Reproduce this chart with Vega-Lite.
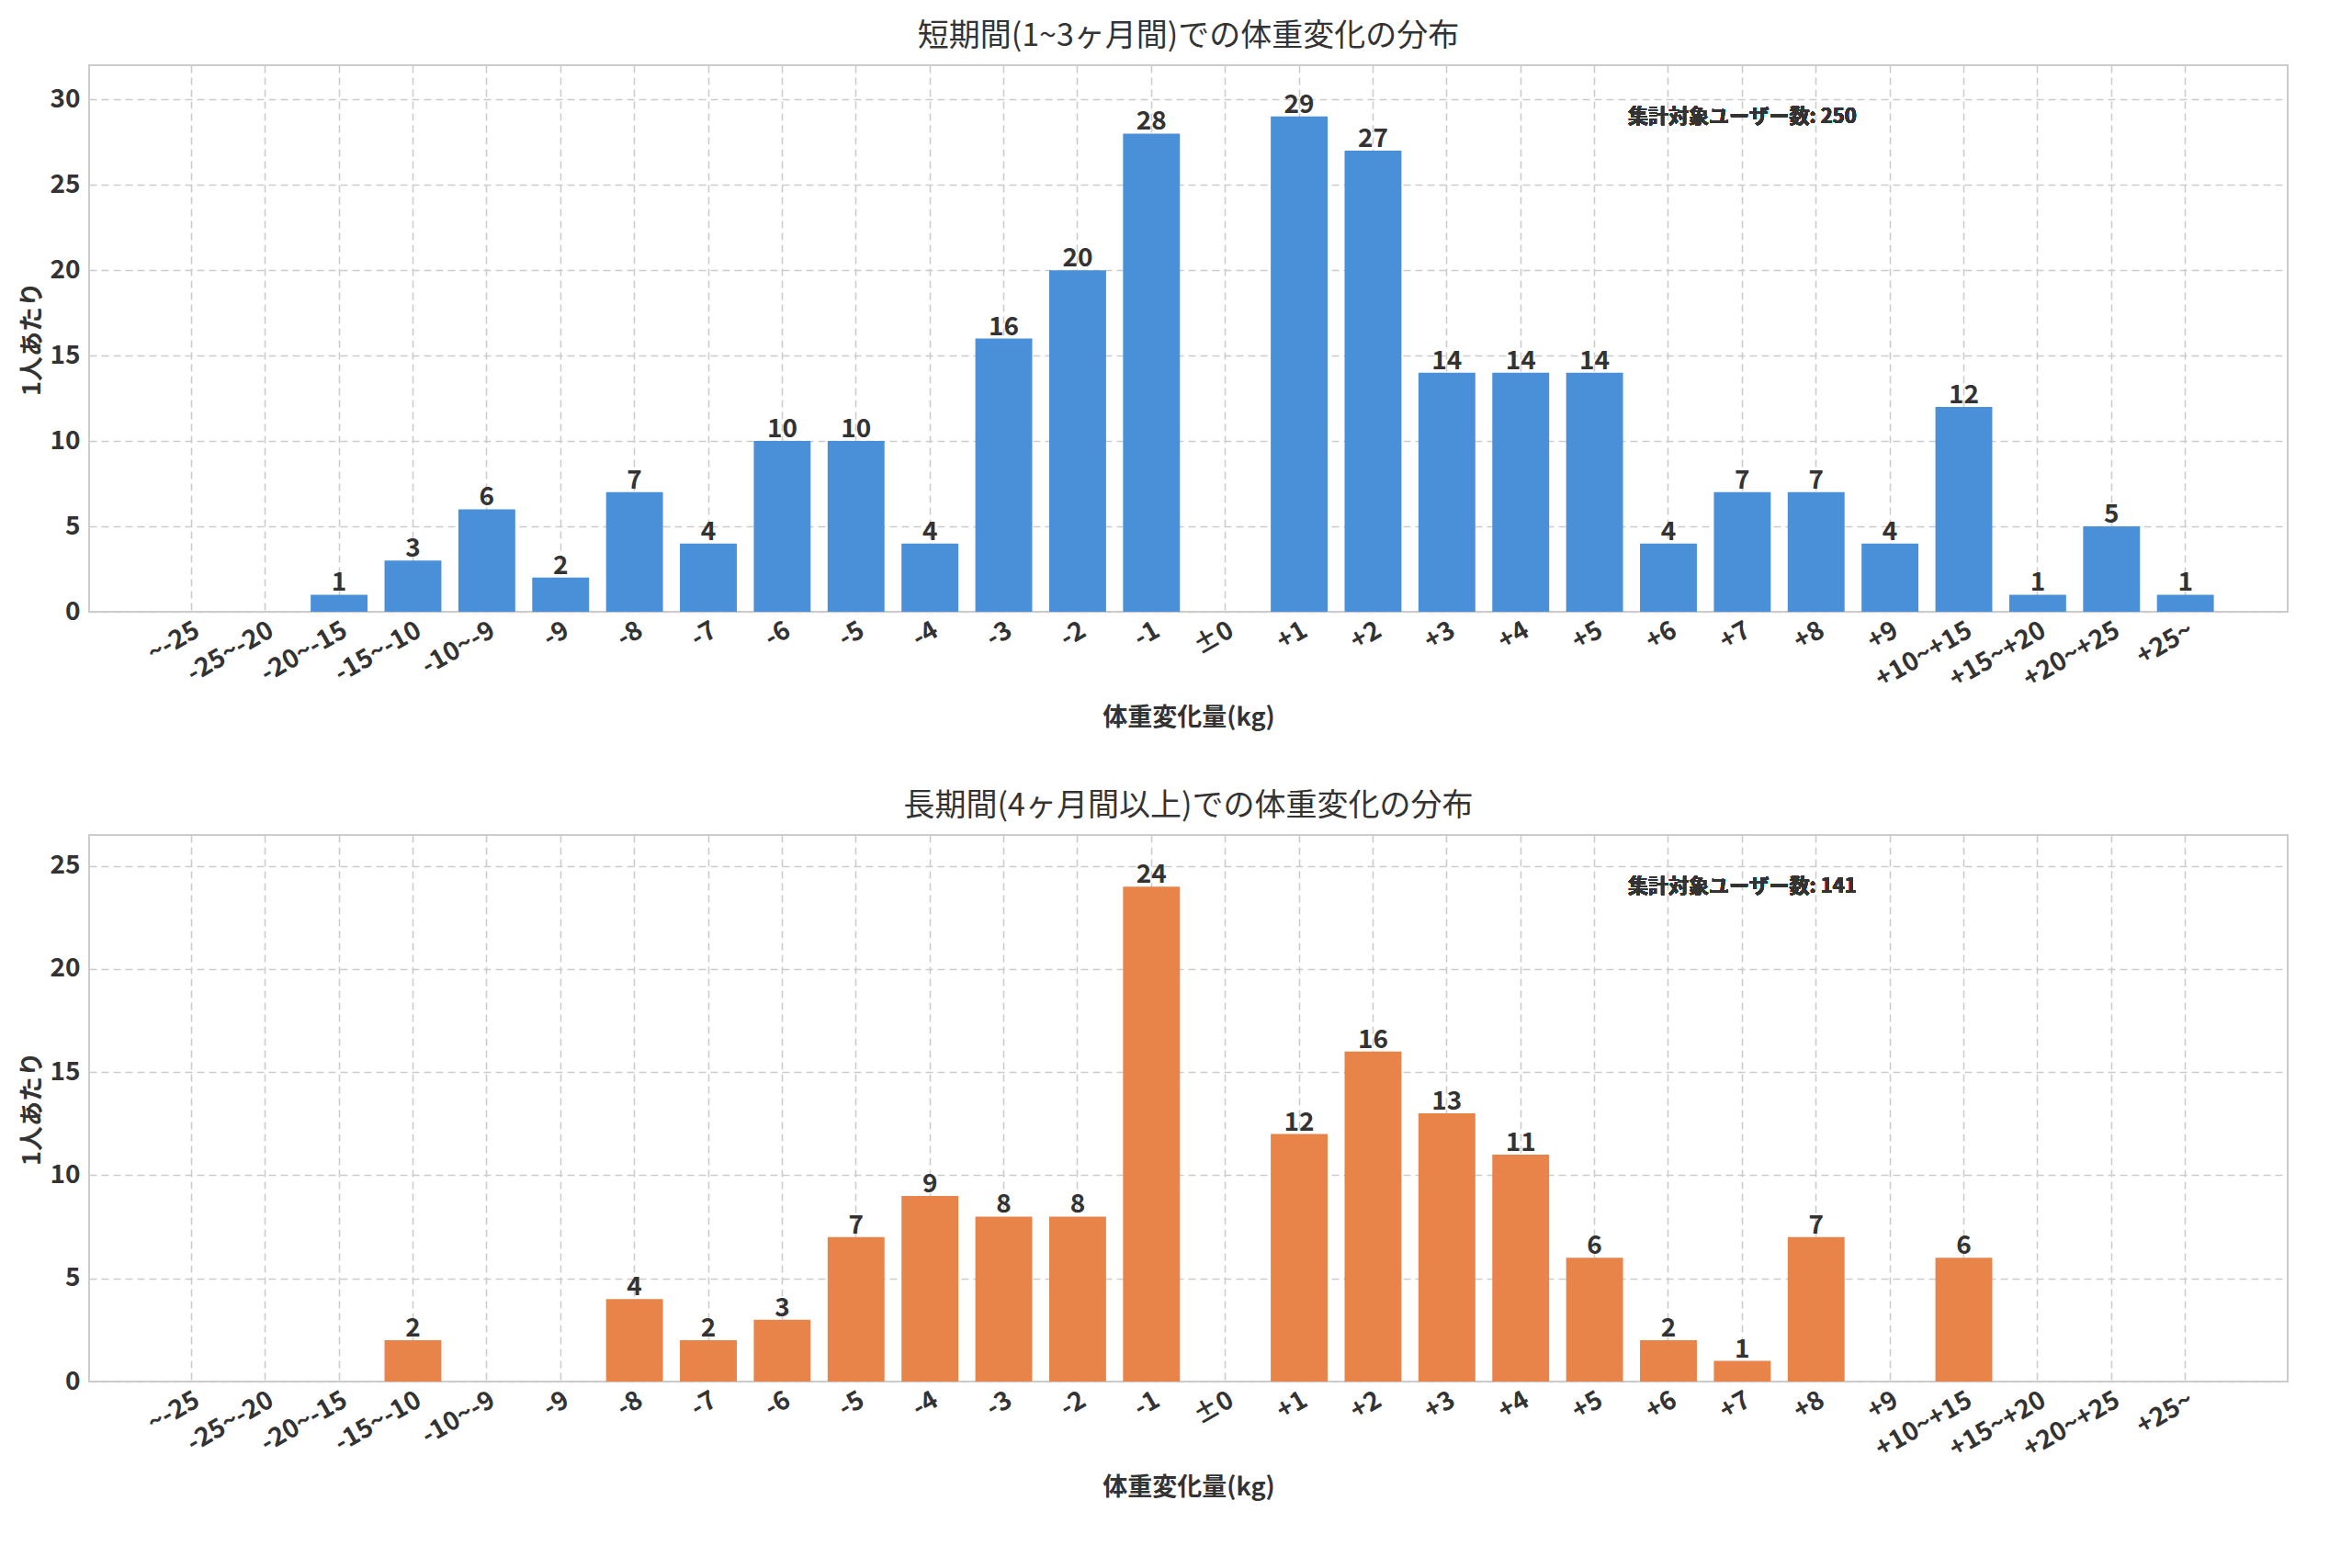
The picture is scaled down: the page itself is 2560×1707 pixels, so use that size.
{
"$schema":"https://vega.github.io/schema/vega-lite/v6.json",
"background":"white",
"padding":{"left":20,"top":22,"right":20,"bottom":10},
"config":{"font":"Noto Sans CJK JP","view":{"stroke":"#cccccc","strokeWidth":2},
"axis":{"labelFont":"Noto Sans CJK JP","titleFont":"Noto Sans CJK JP","labelFontWeight":"bold","titleFontWeight":"bold","labelFontSize":28,"titleFontSize":27,"labelColor":"#333","titleColor":"#333","gridColor":"#cccccc","gridDash":[8,5],"gridWidth":1.6,"domain":false,"ticks":false},
"title":{"font":"Noto Sans CJK JP","fontSize":34,"fontWeight":"normal","color":"#333","offset":14}},
"datasets":{"d":[
{"p":"s","c":"~-25","v":0},{"p":"s","c":"-25~-20","v":0},{"p":"s","c":"-20~-15","v":1},{"p":"s","c":"-15~-10","v":3},{"p":"s","c":"-10~-9","v":6},{"p":"s","c":"-9","v":2},{"p":"s","c":"-8","v":7},{"p":"s","c":"-7","v":4},{"p":"s","c":"-6","v":10},{"p":"s","c":"-5","v":10},{"p":"s","c":"-4","v":4},{"p":"s","c":"-3","v":16},{"p":"s","c":"-2","v":20},{"p":"s","c":"-1","v":28},{"p":"s","c":"±0","v":0},{"p":"s","c":"+1","v":29},{"p":"s","c":"+2","v":27},{"p":"s","c":"+3","v":14},{"p":"s","c":"+4","v":14},{"p":"s","c":"+5","v":14},{"p":"s","c":"+6","v":4},{"p":"s","c":"+7","v":7},{"p":"s","c":"+8","v":7},{"p":"s","c":"+9","v":4},{"p":"s","c":"+10~+15","v":12},{"p":"s","c":"+15~+20","v":1},{"p":"s","c":"+20~+25","v":5},{"p":"s","c":"+25~","v":1},
{"p":"l","c":"~-25","v":0},{"p":"l","c":"-25~-20","v":0},{"p":"l","c":"-20~-15","v":0},{"p":"l","c":"-15~-10","v":2},{"p":"l","c":"-10~-9","v":0},{"p":"l","c":"-9","v":0},{"p":"l","c":"-8","v":4},{"p":"l","c":"-7","v":2},{"p":"l","c":"-6","v":3},{"p":"l","c":"-5","v":7},{"p":"l","c":"-4","v":9},{"p":"l","c":"-3","v":8},{"p":"l","c":"-2","v":8},{"p":"l","c":"-1","v":24},{"p":"l","c":"±0","v":0},{"p":"l","c":"+1","v":12},{"p":"l","c":"+2","v":16},{"p":"l","c":"+3","v":13},{"p":"l","c":"+4","v":11},{"p":"l","c":"+5","v":6},{"p":"l","c":"+6","v":2},{"p":"l","c":"+7","v":1},{"p":"l","c":"+8","v":7},{"p":"l","c":"+9","v":0},{"p":"l","c":"+10~+15","v":6},{"p":"l","c":"+15~+20","v":0},{"p":"l","c":"+20~+25","v":0},{"p":"l","c":"+25~","v":0}
]},
"spacing":64,
"vconcat":[
{"title":"短期間(1~3ヶ月間)での体重変化の分布","width":2393,"height":595,
"data":{"name":"d"},"transform":[{"filter":"datum.p==='s'"}],
"encoding":{"x":{"field":"c","type":"nominal","sort":null,"title":"体重変化量(kg)","scale":{"paddingInner":0.23,"paddingOuter":1.38},"axis":{"grid":true,"bandPosition":0.5,"labelAngle":-30,"labelAlign":"right","labelBaseline":"top","labelPadding":6,"titlePadding":14}},
"y":{"field":"v","type":"quantitative","title":"1人あたり","scale":{"domain":[0,32],"nice":false},"axis":{"values":[0,5,10,15,20,25,30],"labelPadding":10}}},
"layer":[
{"mark":{"type":"bar","color":"#4a90d9"}},
{"transform":[{"filter":"datum.v>0"}],"mark":{"type":"text","fontWeight":"bold","fontSize":28,"color":"#333","baseline":"bottom","dy":2},"encoding":{"text":{"field":"v"}}},
{"mark":{"type":"text","fontWeight":"bold","fontSize":22,"color":"#333","align":"center"},"encoding":{"x":{"datum":"+7"},"y":{"datum":29},"text":{"value":"集計対象ユーザー数: 250"}}}
]},
{"title":"長期間(4ヶ月間以上)での体重変化の分布","width":2393,"height":595,
"data":{"name":"d"},"transform":[{"filter":"datum.p==='l'"}],
"encoding":{"x":{"field":"c","type":"nominal","sort":null,"title":"体重変化量(kg)","scale":{"paddingInner":0.23,"paddingOuter":1.38},"axis":{"grid":true,"bandPosition":0.5,"labelAngle":-30,"labelAlign":"right","labelBaseline":"top","labelPadding":6,"titlePadding":14}},
"y":{"field":"v","type":"quantitative","title":"1人あたり","scale":{"domain":[0,26.5],"nice":false},"axis":{"values":[0,5,10,15,20,25],"labelPadding":10}}},
"layer":[
{"mark":{"type":"bar","color":"#e8834a"}},
{"transform":[{"filter":"datum.v>0"}],"mark":{"type":"text","fontWeight":"bold","fontSize":28,"color":"#333","baseline":"bottom","dy":2},"encoding":{"text":{"field":"v"}}},
{"mark":{"type":"text","fontWeight":"bold","fontSize":22,"color":"#333","align":"center"},"encoding":{"x":{"datum":"+7"},"y":{"datum":24},"text":{"value":"集計対象ユーザー数: 141"}}}
]}
]}
